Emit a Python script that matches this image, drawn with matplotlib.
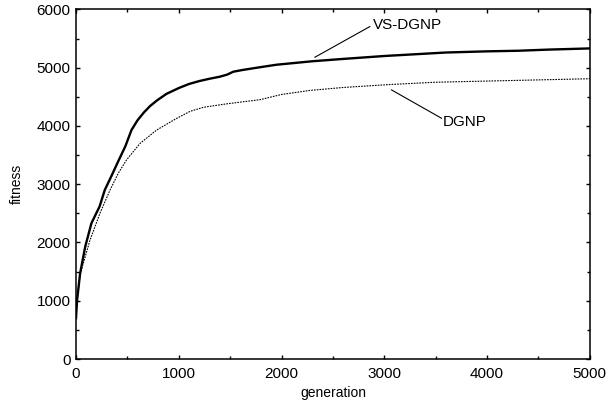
import matplotlib
matplotlib.use('Agg')
import matplotlib.pyplot as plt
from matplotlib.ticker import MultipleLocator

plt.rcParams['font.family'] = ['Liberation Sans', 'DejaVu Sans']

# VS-DGNP (thick solid curve)
gen_vs = [0, 10, 40, 90, 150, 230, 280, 350, 410, 480, 540, 600, 660, 720, 790,
          880, 1000, 1100, 1200, 1300, 1400, 1470, 1530, 1620, 1800, 1950, 2300,
          2600, 3000, 3300, 3600, 4000, 4300, 4600, 5000]
fit_vs = [700, 1000, 1470, 1930, 2330, 2620, 2900, 3160, 3390, 3650, 3930, 4100,
          4230, 4340, 4440, 4550, 4650, 4720, 4770, 4810, 4845, 4880, 4930, 4960,
          5010, 5050, 5110, 5150, 5200, 5230, 5260, 5280, 5290, 5310, 5330]

# DGNP (thin dotted curve)
gen_d = [0, 10, 40, 136, 233, 331, 412, 493, 623, 785, 980, 1110, 1240, 1470,
         1790, 2000, 2280, 2600, 3050, 3500, 4000, 4500, 5000]
fit_d = [700, 1000, 1450, 2040, 2500, 2900, 3190, 3420, 3700, 3930, 4130, 4250,
         4320, 4380, 4450, 4540, 4610, 4660, 4710, 4750, 4770, 4790, 4810]

fig = plt.figure(figsize=(6.08, 4.08), dpi=100)
ax = fig.add_axes([0.125, 0.12, 0.845, 0.857])

ax.plot(gen_vs, fit_vs, color='black', lw=1.7)
ax.plot(gen_d, fit_d, color='black', lw=0.8, linestyle=(0, (1.5, 1)))

ax.set_xlim(0, 5000)
ax.set_ylim(0, 6000)
ax.xaxis.set_major_locator(MultipleLocator(1000))
ax.xaxis.set_minor_locator(MultipleLocator(500))
ax.yaxis.set_major_locator(MultipleLocator(1000))
ax.yaxis.set_minor_locator(MultipleLocator(500))
ax.tick_params(which='both', direction='in', top=True, right=True, labelsize=11, width=1)
ax.tick_params(which='major', length=3)
ax.tick_params(which='minor', length=2)
ax.tick_params(axis='x', pad=6)
ax.tick_params(axis='y', pad=4)
for s in ax.spines.values():
    s.set_linewidth(1.1)

ax.set_xlabel('generation', fontsize=10, labelpad=3)
ax.set_ylabel('fitness', fontsize=10, labelpad=9)

# labels with pointer lines
ax.plot([2325, 2860], [5179, 5705], color='black', lw=0.8)
ax.text(2889, 5734, 'VS-DGNP', fontsize=11, va='center', ha='left')
ax.plot([3071, 3557], [4618, 4132], color='black', lw=0.8)
ax.text(3570, 4074, 'DGNP', fontsize=11, va='center', ha='left')

fig.savefig('out.png', dpi=100)
